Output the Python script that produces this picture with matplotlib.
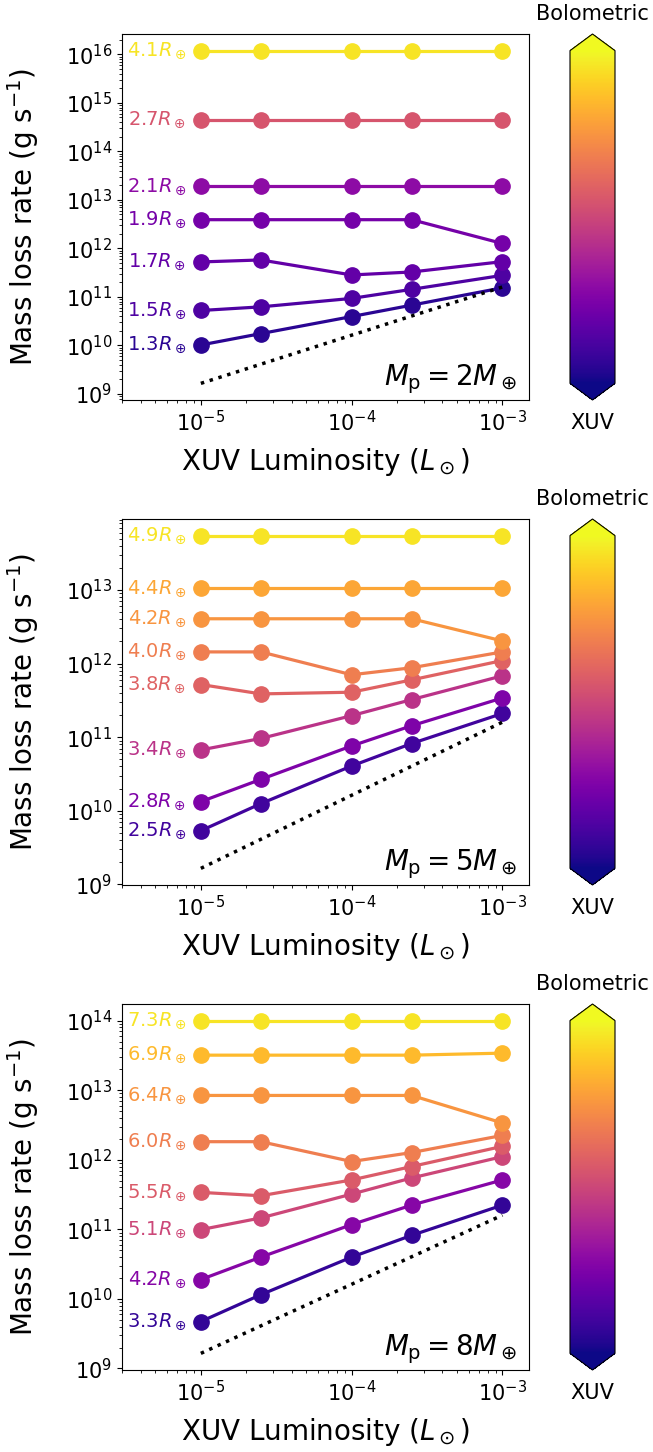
import numpy as np
import matplotlib
matplotlib.use("Agg")
import matplotlib.pyplot as plt
from matplotlib import cm, colors
from matplotlib.ticker import LogLocator, NullFormatter

W, H, DPI = 653, 1452, 100

# XUV luminosities of the runs (L_sun)
L_XUV = [1e-5, 2.5e-5, 1e-4, 2.5e-4, 1e-3]

# energy-limited reference (dotted)
L_REF = [1e-5, 1e-3]
MDOT_REF = [1.65e9, 1.6e11]

MASSES = [2, 5, 8]

# M_p = 2 M_earth
RADII_2 = [1.3, 1.5, 1.7, 1.9, 2.1, 2.7, 4.1]
CVAL_2 = [0.05, 0.13, 0.18, 0.23, 0.29, 0.55, 0.95]
MDOT_2 = [
    [1.02e10, 1.75e10, 3.93e10, 6.75e10, 1.54e11],
    [5.24e10, 6.23e10, 9.3e10, 1.43e11, 2.78e11],
    [5.25e11, 5.77e11, 2.83e11, 3.26e11, 5.33e11],
    [3.9e12, 3.9e12, 3.9e12, 3.9e12, 1.26e12],
    [1.9e13, 1.9e13, 1.9e13, 1.9e13, 1.9e13],
    [4.5e14, 4.5e14, 4.5e14, 4.5e14, 4.5e14],
    [1.19e16, 1.19e16, 1.19e16, 1.19e16, 1.19e16],
]

# M_p = 5 M_earth
RADII_5 = [2.5, 2.8, 3.4, 3.8, 4.0, 4.2, 4.4, 4.9]
CVAL_5 = [0.1, 0.25, 0.43, 0.59, 0.68, 0.75, 0.8, 0.95]
MDOT_5 = [
    [5.36e9, 1.25e10, 4.06e10, 8.2e10, 2.1e11],
    [1.33e10, 2.67e10, 7.6e10, 1.43e11, 3.41e11],
    [6.71e10, 9.6e10, 1.96e11, 3.24e11, 6.82e11],
    [5.19e11, 3.87e11, 4.08e11, 6.0e11, 1.1e12],
    [1.44e12, 1.44e12, 7.04e11, 8.77e11, 1.44e12],
    [4.06e12, 4.06e12, 4.06e12, 4.06e12, 2.03e12],
    [1.05e13, 1.05e13, 1.05e13, 1.05e13, 1.05e13],
    [5.47e13, 5.47e13, 5.47e13, 5.47e13, 5.47e13],
]

# M_p = 8 M_earth
RADII_8 = [3.3, 4.2, 5.1, 5.5, 6.0, 6.4, 6.9, 7.3]
CVAL_8 = [0.07, 0.27, 0.5, 0.57, 0.68, 0.75, 0.85, 0.95]
MDOT_8 = [
    [4.73e9, 1.15e10, 3.99e10, 8.2e10, 2.23e11],
    [1.9e10, 3.99e10, 1.17e11, 2.23e11, 5.13e11],
    [9.91e10, 1.46e11, 3.21e11, 5.48e11, 1.11e12],
    [3.4e11, 3.04e11, 5.13e11, 8.0e11, 1.56e12],
    [1.82e12, 1.82e12, 9.44e11, 1.27e12, 2.24e12],
    [8.41e12, 8.41e12, 8.41e12, 8.41e12, 3.38e12],
    [3.19e13, 3.19e13, 3.19e13, 3.19e13, 3.41e13],
    [1.0e14, 1.0e14, 1.0e14, 1.0e14, 1.0e14],
]

PANELS = [
    (RADII_2, CVAL_2, MDOT_2),
    (RADII_5, CVAL_5, MDOT_5),
    (RADII_8, CVAL_8, MDOT_8),
]

cmap = plt.get_cmap("plasma")
norm = colors.Normalize(0, 1)

fig = plt.figure(figsize=(W / DPI, H / DPI), dpi=DPI)


def px_rect(left, top, right, bottom):
    return [left / W, 1 - bottom / H, (right - left) / W, (bottom - top) / H]


for i, (radii, cvals, mdots) in enumerate(PANELS):
    off = 485 * i
    ax = fig.add_axes(px_rect(122, 34 + off, 529, 400 + off))

    for r, c, mdot in zip(radii, cvals, mdots):
        col = cmap(norm(c))
        ax.plot(L_XUV, mdot, "-o", color=col, lw=2.3, ms=11)
        ax.text(8e-6, mdot[0], f"{r:.1f}$R_\\oplus$", color=col, fontsize=14,
                ha="right", va="center")

    ax.plot(L_REF, MDOT_REF, ":", color="k", lw=2.5)

    ax.set_xscale("log")
    ax.set_yscale("log")
    ax.set_xlim(3e-6, 1.5e-3)
    ax.yaxis.set_major_locator(LogLocator(base=10, numticks=30))
    ax.yaxis.set_minor_locator(LogLocator(base=10, subs=np.arange(2, 10), numticks=30))
    ax.yaxis.set_minor_formatter(NullFormatter())
    ax.tick_params(labelsize=15)

    ax.set_xlabel(r"XUV Luminosity ($L_\odot$)", fontsize=20, labelpad=8)
    ax.set_ylabel(r"Mass loss rate (g s$^{-1}$)", fontsize=20)
    ax.yaxis.set_label_coords(-0.2, 0.5)

    ax.text(0.97, 0.012, f"$M_{{\\rm p}} = {MASSES[i]}M_\\oplus$", fontsize=20,
            ha="right", va="bottom", transform=ax.transAxes)

    # colour scale: XUV-driven (bottom) to bolometric-driven (top)
    cax = fig.add_axes(px_rect(570, 34 + off, 615, 400 + off))
    sm = cm.ScalarMappable(norm=norm, cmap=cmap)
    cb = fig.colorbar(sm, cax=cax, extend="both")
    cb.set_ticks([])
    cb.minorticks_off()
    fig.text(592.5 / W, 1 - (14 + off) / H, "Bolometric", fontsize=15,
             ha="center", va="center")
    fig.text(592.5 / W, 1 - (423 + off) / H, "XUV", fontsize=15,
             ha="center", va="center")

fig.savefig("out.png", dpi=DPI)
